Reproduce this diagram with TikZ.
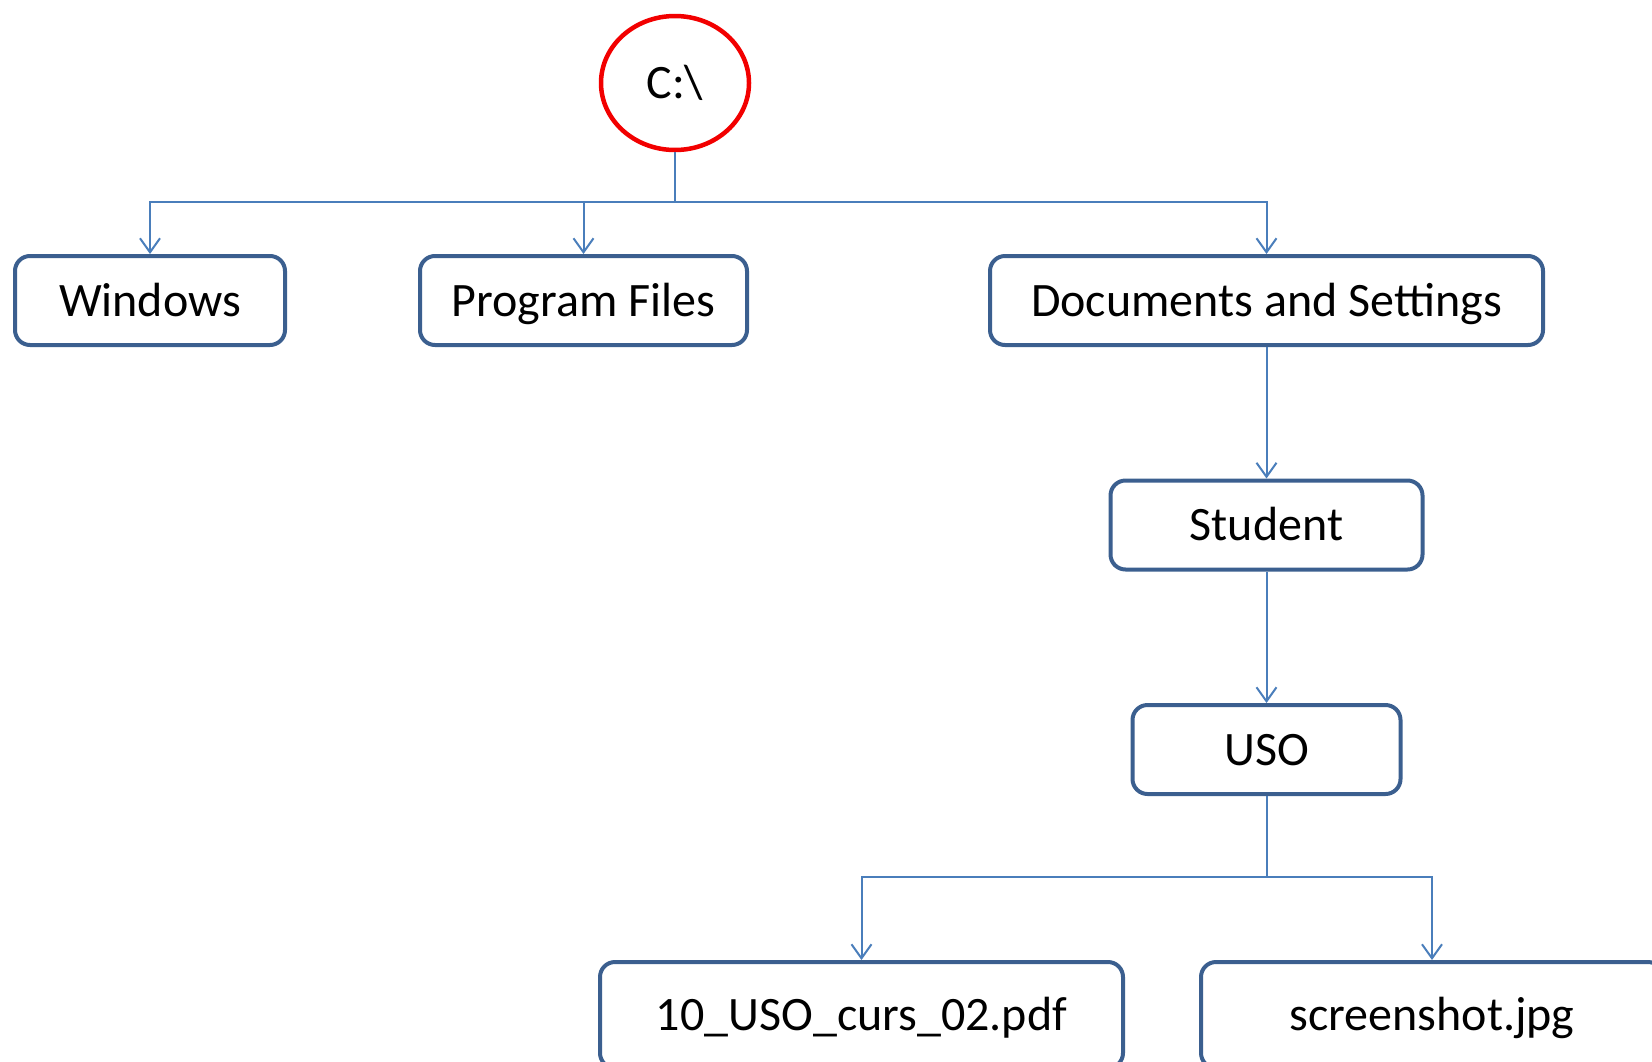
\documentclass[tikz,border=0pt]{standalone}
\usepackage{fontspec}
\setmainfont{Carlito}
\usetikzlibrary{shapes.geometric,arrows.meta}
\definecolor{boxline}{HTML}{3B5F8F}
\definecolor{conn}{HTML}{4A7EBB}
\definecolor{rootred}{HTML}{F20000}
\begin{document}
\begin{tikzpicture}[x=1pt,y=-1pt,
  folder/.style={draw=boxline,line width=4pt,rounded corners=15pt,fill=white,
    minimum height=89pt,inner sep=0pt,text height=31.5pt,text depth=0pt,
    font=\fontsize{48}{57}\selectfont},
  rootnode/.style={draw=rootred,ellipse,line width=4.5pt,minimum width=148pt,minimum height=134pt,
    inner sep=0pt,font=\fontsize{48}{57}\selectfont},
  conline/.style={draw=conn,line width=2pt},
  arr/.style={conline,-{Straight Barb[length=14pt,width=20pt,line width=2pt]}}]
\useasboundingbox (0,0) rectangle (1652,1061);
\node[rootnode] (c) at (675,83) {C:\textbackslash};
\node[folder,minimum width=270pt] (win) at (150,300.5) {Windows};
\node[folder,minimum width=327pt] (pf) at (583.5,300.5) {Program Files};
\node[folder,minimum width=553pt] (ds) at (1266.5,300.5) {Documents and Settings};
\node[folder,minimum width=312pt] (st) at (1266.5,525) {Student};
\node[folder,minimum width=268pt] (uso) at (1266.5,749.5) {USO};
\node[folder,minimum width=523pt,minimum height=106pt] (pdf) at (861.5,1015) {10\_USO\_curs\_02.pdf};
\node[folder,minimum width=462pt,minimum height=106pt] (jpg) at (1432,1015) {screenshot.jpg};
\coordinate (j1) at (675,202);
\coordinate (j2) at (1266.5,877);
\draw[conline] (c.south) -- (j1);
\draw[arr] (j1) -| (win.north);
\draw[arr] (j1) -| (pf.north);
\draw[arr] (j1) -| (ds.north);
\draw[arr] (ds.south) -- (st.north);
\draw[arr] (st.south) -- (uso.north);
\draw[conline] (uso.south) -- (j2);
\draw[arr] (j2) -| (pdf.north);
\draw[arr] (j2) -| (jpg.north);
\end{tikzpicture}
\end{document}
